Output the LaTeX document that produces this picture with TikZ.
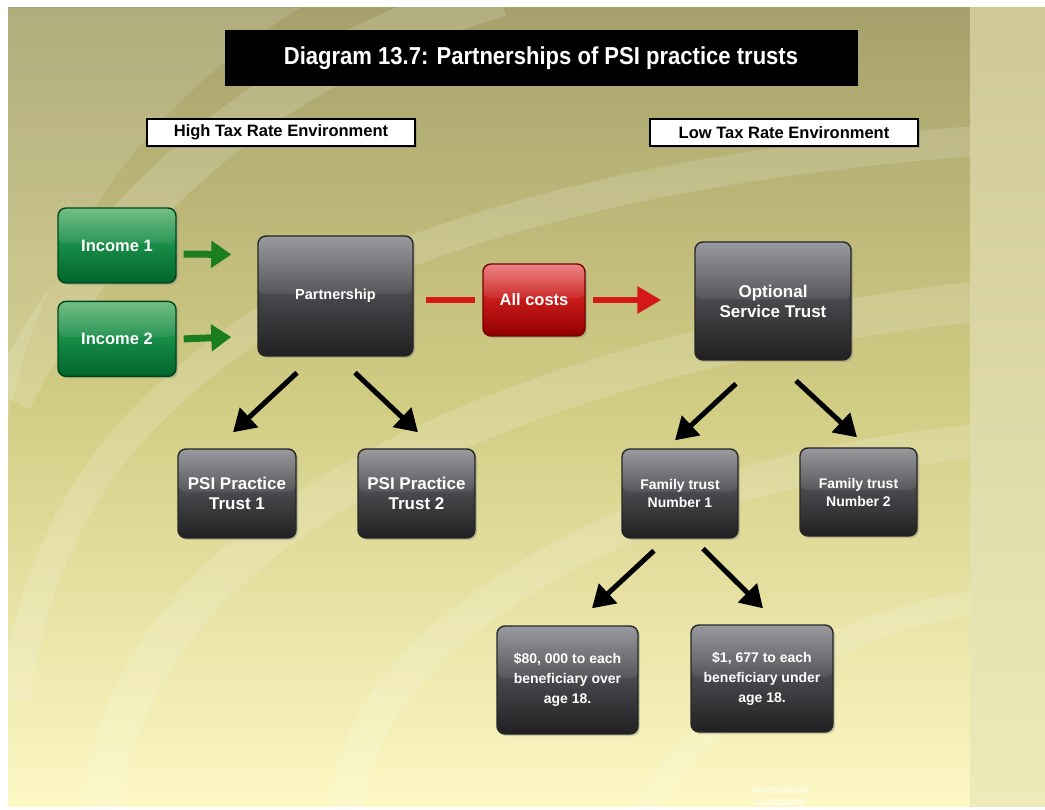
\documentclass[tikz,border=0pt]{standalone}
\usepackage{fontspec}
\setmainfont{Liberation Sans}
\newfontfamily\narrowfont[FakeStretch=0.9]{Liberation Sans}
\usetikzlibrary{positioning,arrows.meta,calc,shadows}

\definecolor{bgtop}{RGB}{166,161,108}
\definecolor{bgmid}{RGB}{210,205,132}
\definecolor{bgbot}{RGB}{253,248,196}
\definecolor{striptop}{RGB}{206,201,150}
\definecolor{stripbot}{RGB}{238,234,186}
\definecolor{darktop}{RGB}{146,147,152}
\definecolor{darkmid}{RGB}{72,72,76}
\definecolor{darkbot}{RGB}{32,32,34}
\definecolor{greentop}{RGB}{105,185,125}
\definecolor{greenmid}{RGB}{22,140,70}
\definecolor{greenbot}{RGB}{0,100,42}
\definecolor{redtop}{RGB}{236,122,122}
\definecolor{redmid}{RGB}{200,25,25}
\definecolor{redbot}{RGB}{145,0,0}
\definecolor{garrow}{RGB}{26,125,30}
\definecolor{rarrow}{RGB}{212,24,24}

\begin{document}
\begin{tikzpicture}[x=1pt, y=-1pt,
  box/.style={rounded corners=8pt, align=center, text=white,
              draw=black!85, line width=1.4pt, inner sep=3pt,
              font=\bfseries\fontsize{14}{18}\selectfont,
              drop shadow={shadow xshift=2pt, shadow yshift=-2pt, opacity=0.35},
              path picture={\fill[white, opacity=0.07]
                (path picture bounding box.north west) rectangle
                ($(path picture bounding box.east)+(0,-2)$);}},
  darkbox/.style={box, top color=darktop, bottom color=darkbot, middle color=darkmid},
  greenbox/.style={box, top color=greentop, bottom color=greenbot, middle color=greenmid,
              draw=greenbot!70!black, minimum width=118pt, minimum height=75pt,
              font=\bfseries\fontsize{16.5}{18}\selectfont},
  redbox/.style={box, top color=redtop, bottom color=redbot, middle color=redmid,
              draw=redbot!80!black, minimum width=102pt, minimum height=72pt,
              font=\bfseries\fontsize{16.5}{18}\selectfont},
  envbox/.style={draw=black, line width=1.2pt, fill=white, minimum width=268pt,
              minimum height=27pt, inner sep=2pt, font=\bfseries\fontsize{16.5}{18}\selectfont,
              drop shadow={shadow xshift=2pt, shadow yshift=-2pt, opacity=0.4}},
  sband/.style={white, opacity=0.15},
  garr/.style={draw=garrow, line width=7pt, -{Triangle[length=20pt,width=26pt]}},
  rline/.style={draw=rarrow, line width=6pt},
  rarr/.style={rline, -{Triangle[length=24pt,width=26pt]}},
  karr/.style={draw=black, line width=5pt, -{Triangle[length=22pt,width=26pt]}}
]
\useasboundingbox (0,0) rectangle (1045,810);
% slide background
\fill[white] (0,0) rectangle (1045,810);
\shade[top color=bgtop, bottom color=bgbot, middle color=bgmid] (8,8) rectangle (970,806);
\begin{scope}
  \clip (8,8) rectangle (970,806);
  \fill[white, opacity=0.12] (8,8) -- (300,8) .. controls (150,100) and (40,250) .. (8,420) -- cycle;
  \draw[sband, line width=44pt] (500,-5) .. controls (300,50) and (110,190) .. (10,400);
  \draw[sband, line width=30pt] (990,140) .. controls (700,160) and (420,220) .. (250,330)
     .. controls (120,420) and (40,520) .. (15,700);
  \draw[sband, line width=40pt] (990,300) .. controls (700,330) and (400,420) .. (240,560)
     .. controls (150,640) and (110,720) .. (100,820);
  \draw[sband, line width=34pt] (990,440) .. controls (760,460) and (560,530) .. (430,650)
     .. controls (370,710) and (350,760) .. (345,820);
  \draw[sband, line width=24pt] (990,600) .. controls (850,620) and (720,680) .. (640,820);
\end{scope}
\shade[top color=striptop, bottom color=stripbot] (970,8) rectangle (1045,806);

% title and environment labels
\node[fill=black, minimum width=633pt, minimum height=56pt, text=white,
      font=\narrowfont\bfseries\fontsize{24.5}{26}\selectfont] (title) at (541,58)
      {Diagram 13.7: Partnerships of PSI practice trusts};
\node[envbox] (high) at (281,132.5) {High Tax Rate Environment};
\node[envbox] (low)  at (784,132.5) {Low Tax Rate Environment};

% high tax side
\node[greenbox] (inc1) at (117,245.5) {Income 1};
\node[greenbox, below=17pt of inc1] (inc2) {Income 2};
\node[darkbox, minimum width=155pt, minimum height=120pt,
      font=\bfseries\fontsize{14.5}{16}\selectfont] (part) at (335.5,296) {Partnership};
\node[darkbox, minimum width=118pt, minimum height=89pt,
      font=\bfseries\fontsize{17}{20}\selectfont] (psi1) at (237,493.5) {PSI Practice\\Trust 1};
\node[darkbox, minimum width=117pt, minimum height=89pt,
      font=\bfseries\fontsize{17}{20}\selectfont] (psi2) at (416.5,493.5) {PSI Practice\\Trust 2};

% low tax side
\node[redbox] (costs) at (534,300) {All costs};
\node[darkbox, minimum width=156pt, minimum height=118pt,
      font=\bfseries\fontsize{17}{20}\selectfont] (ost) at (773,301) {Optional\\Service Trust};
\node[darkbox, minimum width=116pt, minimum height=89pt,
      font=\bfseries\fontsize{14}{18}\selectfont] (ft1) at (680,493.5) {Family trust\\Number 1};
\node[darkbox, minimum width=117pt, minimum height=88pt,
      font=\bfseries\fontsize{14}{18}\selectfont] (ft2) at (858.5,492) {Family trust\\Number 2};
\node[darkbox, minimum width=141pt, minimum height=108pt,
      font=\bfseries\fontsize{14}{20}\selectfont] (ben1) at (567.5,680) {\$80, 000 to each\\beneficiary over\\age 18.};
\node[darkbox, minimum width=142pt, minimum height=107pt,
      font=\bfseries\fontsize{14}{20}\selectfont] (ben2) at (762,678.5) {\$1, 677 to each\\beneficiary under\\age 18.};

% faint footer text
\node[text=white, opacity=0.75, align=center, font=\bfseries\fontsize{11}{12}\selectfont]
      (inv) at (780,797) {Investment\\Company};

% income arrows
\draw[garr] ($(inc1.east)+(7,8.5)$) -- ($(part.west)+(-26,-41.5)$);
\draw[garr] ($(inc2.east)+(7,0)$) -- ($(part.west)+(-26,41)$);
% costs flow
\draw[rline] ($(part.east)+(12,4)$) -- ($(costs.west)+(-7,0)$);
\draw[rarr] ($(costs.east)+(7,0)$) -- ($(ost.west)+(-33,-1)$);
% downward arrows
\draw[karr] ($(part.south)+(-38.5,16)$) -- ($(psi1.north)+(-4,-16)$);
\draw[karr] ($(part.south)+(19.5,16)$) -- ($(psi2.north)+(1.5,-16)$);
\draw[karr] ($(ost.south)+(-37,23)$) -- ($(ft1.north)+(-5,-8)$);
\draw[karr] ($(ost.south)+(23,20)$) -- ($(ft2.north)+(-1.5,-10)$);
\draw[karr] ($(ft1.south)+(-26,12)$) -- ($(ben1.north)+(24.5,-17)$);
\draw[karr] ($(ft1.south)+(23,10)$) -- ($(ben2.north)+(1,-16)$);
\end{tikzpicture}
\end{document}
